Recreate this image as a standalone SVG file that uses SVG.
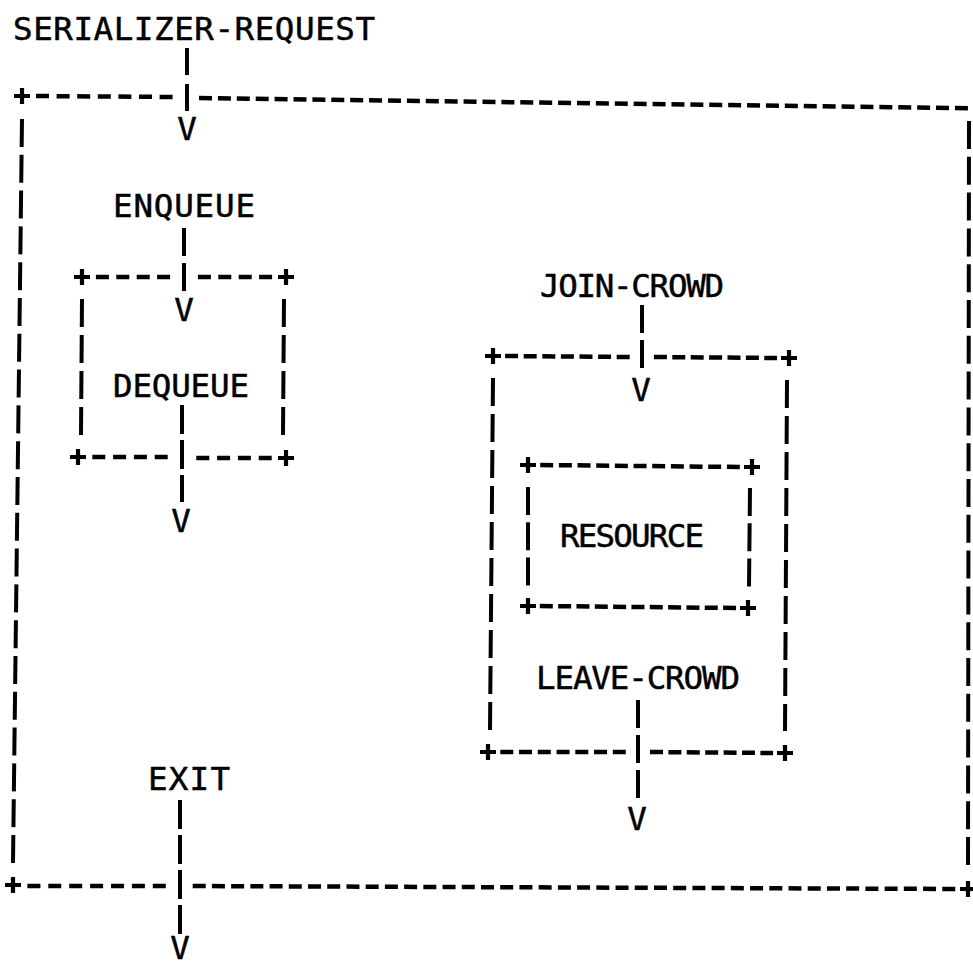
<svg xmlns="http://www.w3.org/2000/svg" width="973" height="966" viewBox="0 0 973 966">
<style>
.t{font-family:"DejaVu Sans Mono","Liberation Mono",monospace;font-size:32.5px;fill:#000;stroke:#000;stroke-width:0.5}
.v{text-anchor:middle}
.h{stroke:#000;stroke-width:4.5;fill:none}
.s{stroke:#000;stroke-width:4;fill:none}
.p{stroke:#000;stroke-width:4.2;fill:none}
</style>
<rect width="973" height="966" fill="#fff"/>

<g id="serializer">
  <text class="t" x="13" y="40" textLength="362" lengthAdjust="spacing">SERIALIZER-REQUEST</text>
  <path class="p" d="M14 96h16M22 88v16"/>
  <line class="h" x1="36" y1="96" x2="173" y2="97" stroke-dasharray="13 7.6"/>
  <line class="h" x1="199" y1="98" x2="985" y2="108.5" stroke-dasharray="13 5.9"/>
  <line class="s" x1="22" y1="119" x2="13" y2="863" stroke-dasharray="28 7.8"/>
  <line class="s" x1="969" y1="121" x2="968" y2="865" stroke-dasharray="28 7.8"/>
  <path class="p" d="M5 885h16M13 877v16"/>
  <line class="h" x1="27.4" y1="886" x2="165.8" y2="886" stroke-dasharray="13 7.9"/>
  <line class="h" x1="192.7" y1="886" x2="955.3" y2="889" stroke-dasharray="13 6.22"/>
  <path class="p" d="M960 889h16M968 881v16"/>
</g>

<g id="enqueue">
  <text class="t" x="113" y="217" textLength="142" lengthAdjust="spacing">ENQUEUE</text>
</g>

<g id="dequeue">
  <path class="p" d="M74 277h16M82 269v16"/>
  <line class="h" x1="95.9" y1="277" x2="170.1" y2="277" stroke-dasharray="13 7.4"/>
  <line class="h" x1="197.9" y1="277" x2="272.1" y2="277" stroke-dasharray="13 7.4"/>
  <path class="p" d="M278 277h16M286 269v16"/>
  <line class="s" x1="82" y1="299" x2="81" y2="435" stroke-dasharray="28 8"/>
  <line class="s" x1="284" y1="299" x2="283" y2="435" stroke-dasharray="28 8"/>
  <text class="t" x="113" y="397" textLength="136" lengthAdjust="spacing">DEQUEUE</text>
  <path class="p" d="M70 457h16M78 449v16"/>
  <line class="h" x1="92.3" y1="457" x2="167.7" y2="457" stroke-dasharray="13 7.8"/>
  <line class="h" x1="196.3" y1="458" x2="271.7" y2="458" stroke-dasharray="13 7.8"/>
  <path class="p" d="M278 458h16M286 450v16"/>
</g>

<g id="join-crowd">
  <text class="t" x="540" y="297" textLength="184" lengthAdjust="spacing">JOIN-CROWD</text>
</g>

<g id="crowd">
  <path class="p" d="M485 356h16M493 348v16"/>
  <line class="h" x1="505.1" y1="356" x2="629.7" y2="357" stroke-dasharray="13 5.6"/>
  <line class="h" x1="653.9" y1="357" x2="777.1" y2="358" stroke-dasharray="13 5.4"/>
  <path class="p" d="M781 358h16M789 350v16"/>
  <line class="s" x1="493" y1="378" x2="490" y2="730" stroke-dasharray="28 8"/>
  <line class="s" x1="787" y1="380" x2="785" y2="731" stroke-dasharray="28 8"/>
  <path class="p" d="M480 752h16M488 744v16"/>
  <line class="h" x1="500.3" y1="752" x2="625.8" y2="752" stroke-dasharray="13 5.75"/>
  <line class="h" x1="650" y1="752" x2="773.1" y2="753" stroke-dasharray="13 5.4"/>
  <path class="p" d="M777 753h16M785 745v16"/>
</g>

<g id="resource">
  <path class="p" d="M520 465h16M528 457v16"/>
  <line class="h" x1="540.2" y1="465" x2="739.8" y2="467" stroke-dasharray="13 5.67"/>
  <path class="p" d="M744 467h16M752 459v16"/>
  <line class="s" x1="528" y1="487" x2="528" y2="586" stroke-dasharray="28 7.25"/>
  <line class="s" x1="750" y1="488" x2="749" y2="587" stroke-dasharray="28 7.25"/>
  <text class="t" x="560" y="547" textLength="144" lengthAdjust="spacing">RESOURCE</text>
  <path class="p" d="M520 606h16M528 598v16"/>
  <line class="h" x1="539.8" y1="606" x2="736.2" y2="608" stroke-dasharray="13 5.33"/>
  <path class="p" d="M740 608h16M748 600v16"/>
</g>

<g id="leave-crowd">
  <text class="t" x="536" y="689" textLength="204" lengthAdjust="spacing">LEAVE-CROWD</text>
</g>

<g id="exit">
  <text class="t" x="148" y="790" textLength="82" lengthAdjust="spacing">EXIT</text>
</g>

<g id="connectors">
  <line class="s" x1="187" y1="48" x2="187" y2="111" stroke-dasharray="27 9"/>
  <text class="t v" x="187" y="140">V</text>
  <line class="s" x1="184" y1="228" x2="184" y2="292" stroke-dasharray="28 7"/>
  <text class="t v" x="184" y="321">V</text>
  <line class="s" x1="182" y1="405" x2="182" y2="502" stroke-dasharray="29 6"/>
  <text class="t v" x="181" y="532">V</text>
  <line class="s" x1="642" y1="305" x2="642" y2="368" stroke-dasharray="28 7"/>
  <text class="t v" x="641" y="401">V</text>
  <line class="s" x1="638" y1="700" x2="638" y2="799" stroke-dasharray="28 7"/>
  <text class="t v" x="637" y="830">V</text>
  <line class="s" x1="180" y1="800" x2="180" y2="935" stroke-dasharray="29 6"/>
  <text class="t v" x="180" y="959">V</text>
</g>
</svg>
